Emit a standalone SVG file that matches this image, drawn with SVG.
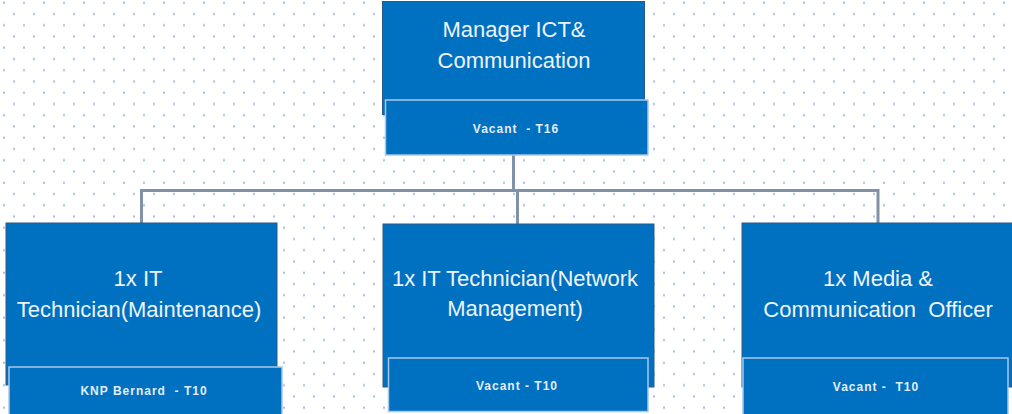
<svg xmlns="http://www.w3.org/2000/svg" width="1012" height="414" viewBox="0 0 1012 414">
  <defs>
    <pattern id="dots" x="0" y="0" width="20" height="22.5" patternUnits="userSpaceOnUse">
      <rect x="3" y="1.7" width="2" height="2" fill="#a3bfe0"/>
      <rect x="13" y="13" width="2" height="2" fill="#a3bfe0"/>
    </pattern>
  </defs>
  <style>
    .main { fill: #0070c0; stroke: #2a5a8a; stroke-width: 1; }
    .sub { fill: #0070c0; stroke: #a9c8e8; stroke-width: 1.5; }
    .title { font-family: "Liberation Sans", Arial, sans-serif; font-size: 22px; fill: #eef4fb; text-anchor: middle; white-space: pre; }
    .small { font-family: "Liberation Sans", Arial, sans-serif; font-size: 12px; font-weight: bold; letter-spacing: 1px; fill: #e3edf8; text-anchor: middle; white-space: pre; }
    .conn { fill: none; stroke: #8092a8; stroke-width: 3; }
  </style>
  <rect width="1012" height="414" fill="#ffffff"/>
  <rect width="1012" height="414" fill="url(#dots)"/>

  <g id="connectors">
    <path class="conn" d="M513.5 155 V190.5"/>
    <path class="conn" d="M141.5 223 V190.5 H878 V223"/>
    <path class="conn" d="M517.5 190.5 V224"/>
  </g>

  <g id="manager">
    <rect class="main" x="382.5" y="1.5" width="262" height="113"/>
    <rect class="sub" x="385.5" y="100" width="262.5" height="55"/>
    <text class="title" x="514" y="37">Manager ICT&amp;</text>
    <text class="title" x="514" y="68">Communication</text>
    <text class="small" x="516" y="133">Vacant  - T16</text>
  </g>

  <g id="it-maintenance">
    <rect class="main" x="6" y="223" width="271" height="162"/>
    <rect class="sub" x="9" y="367" width="273" height="52"/>
    <text class="title" x="138" y="286">1x IT</text>
    <text class="title" x="139" y="317">Technician(Maintenance)</text>
    <text class="small" x="144" y="395">KNP Bernard  - T10</text>
  </g>

  <g id="it-network">
    <rect class="main" x="383" y="224" width="271" height="163"/>
    <rect class="sub" x="388.5" y="358" width="259.5" height="53.5"/>
    <text class="title" x="515" y="286">1x IT Technician(Network</text>
    <text class="title" x="515" y="316">Management)</text>
    <text class="small" x="517" y="390">Vacant - T10</text>
  </g>

  <g id="media-officer">
    <rect class="main" x="742" y="223" width="280" height="164"/>
    <rect class="sub" x="743" y="358" width="265" height="60"/>
    <text class="title" x="878" y="286">1x Media &amp;</text>
    <text class="title" x="878" y="317">Communication  Officer</text>
    <text class="small" x="876" y="391">Vacant -  T10</text>
  </g>
</svg>
